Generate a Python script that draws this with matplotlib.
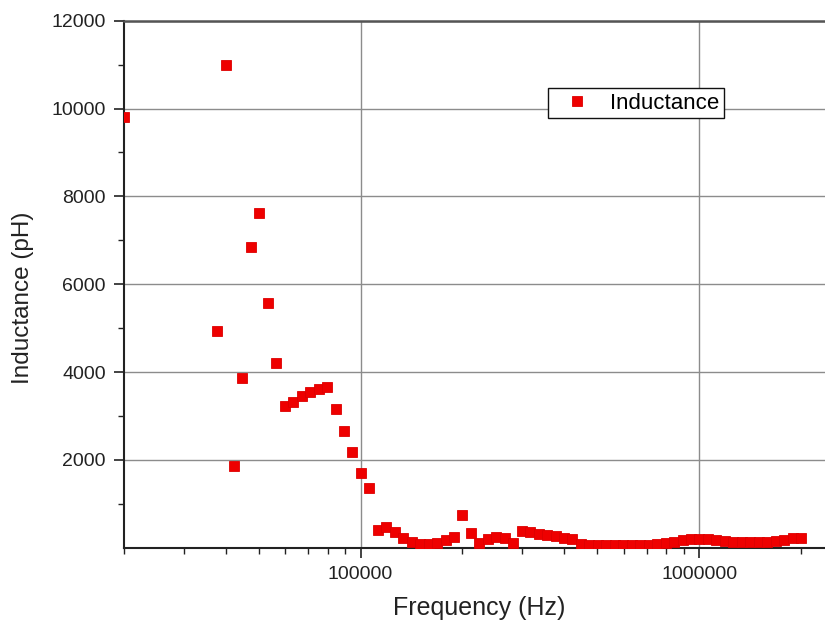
import numpy as np
import matplotlib
matplotlib.use('Agg')
import matplotlib.pyplot as plt
from matplotlib.ticker import FixedLocator, NullFormatter, LogLocator

plt.rcParams['font.family'] = ['Liberation Sans', 'DejaVu Sans']

freq = [20000, 37670, 39900, 42270, 44770, 47430, 50240, 53220, 56370, 59710,
        63250, 66990, 70960, 75170, 79620, 84340, 89340, 94630, 100240, 106180,
        112470, 119130, 126190, 133670, 141590, 149980, 158870, 168280, 178250, 188810,
        200000, 211850, 224400, 237700, 251790, 266700, 282510, 299250, 316980, 335760,
        355660, 376730, 399050, 422700, 447740, 474270, 502380, 532150, 563680, 597080,
        632460, 669930, 709630, 751670, 796210, 843390, 893370, 946300, 1002370, 1061770,
        1124680, 1191320, 1261910, 1336690, 1415890, 1499790, 1588660, 1682790, 1782500, 1888120,
        2000000]

inductance = [9800, 4940, 11000, 1870, 3870, 6840, 7620, 5570, 4200, 3230,
              3310, 3450, 3550, 3610, 3650, 3160, 2650, 2170, 1710, 1360,
              400, 460, 365, 215, 130, 85, 75, 100, 175, 250,
              740, 340, 100, 190, 250, 215, 115, 380, 350, 320,
              290, 260, 230, 190, 80, 70, 65, 60, 60, 60,
              60, 60, 65, 75, 100, 130, 170, 190, 200, 195,
              170, 150, 140, 135, 135, 135, 140, 150, 180, 210,
              230]

y_ticks = [2000, 4000, 6000, 8000, 10000, 12000]
x_ticks = [100000, 1000000]
x_tick_labels = ['100000', '1000000']

fig = plt.figure(figsize=(8.25, 6.29), dpi=100)
ax = fig.add_axes([0.1503, 0.1293, 0.8497, 0.8378])

ax.plot(freq, inductance, linestyle='none', marker='s', markersize=6.6,
        color='#ee0000', markeredgecolor='#dd0000', markeredgewidth=0.6,
        label='Inductance', clip_on=True, zorder=3)

ax.set_xscale('log')
ax.set_xlim(20000, 2.355e6)
ax.set_ylim(0, 12000)

ax.xaxis.set_major_locator(FixedLocator(x_ticks))
ax.set_xticklabels(x_tick_labels)
ax.xaxis.set_minor_locator(LogLocator(base=10, subs=np.arange(2, 10)))
ax.xaxis.set_minor_formatter(NullFormatter())

ax.set_yticks(y_ticks)
ax.set_yticklabels([str(v) for v in y_ticks])
ax.yaxis.set_minor_locator(FixedLocator([1000, 3000, 5000, 7000, 9000, 11000]))

ax.grid(True, which='major', color='#8c8c8c', linewidth=1.0)
ax.set_axisbelow(True)

ax.tick_params(axis='both', which='major', direction='out', length=7, width=1.2,
               color='#222222', labelsize=14, labelcolor='#222222')
ax.tick_params(axis='both', which='minor', direction='out', length=4.5, width=1.0,
               color='#222222')
ax.tick_params(axis='y', which='major', pad=6)
ax.tick_params(axis='x', which='major', pad=6)

for side in ['left', 'bottom']:
    ax.spines[side].set_color('#222222')
    ax.spines[side].set_linewidth(1.5)
ax.spines['top'].set_color('#555555')
ax.spines['top'].set_linewidth(1.8)
ax.spines['right'].set_visible(False)

ax.set_xlabel('Frequency (Hz)', fontsize=18, color='#222222')
ax.set_ylabel('Inductance (pH)', fontsize=17.5, color='#222222')
ax.xaxis.set_label_coords(0.507, -0.092)
ax.yaxis.set_label_coords(-0.128, 0.474)

leg = ax.legend(loc='upper left', bbox_to_anchor=(0.605, 0.872), borderaxespad=0,
                fontsize=16, frameon=True, fancybox=False, shadow=False,
                handlelength=2.2, handletextpad=0.4, borderpad=0.2, markerscale=1.0)
leg.get_frame().set_edgecolor('#111111')
leg.get_frame().set_linewidth(1.0)
leg.get_frame().set_alpha(1)

fig.savefig('out.png', dpi=100)
